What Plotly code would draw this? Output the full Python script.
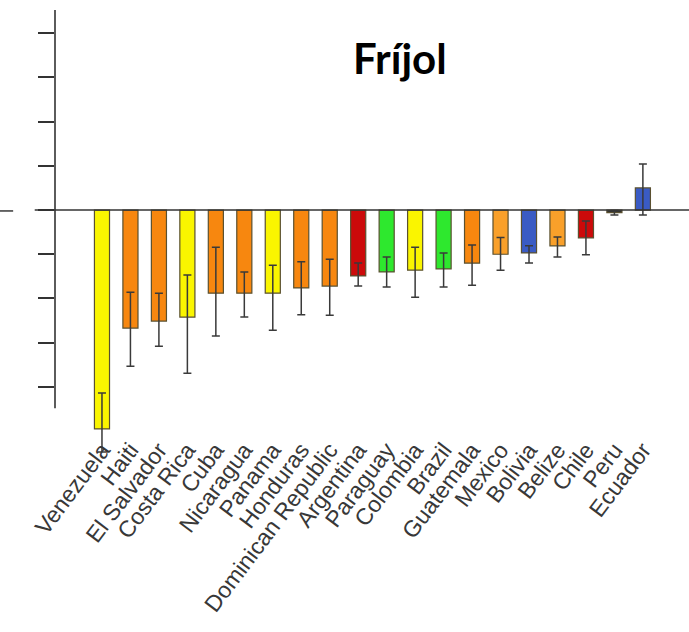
import plotly.graph_objects as go

# Country-level change for bean (fríjol), sorted from largest loss to gain
countries = ["Venezuela", "Haiti", "El Salvador", "Costa Rica", "Cuba", "Nicaragua",
             "Panama", "Honduras", "Dominican Republic", "Argentina", "Paraguay",
             "Colombia", "Brazil", "Guatemala", "Mexico", "Bolivia", "Belize",
             "Chile", "Peru", "Ecuador"]
values = [-49.5, -26.7, -25.1, -24.2, -18.8, -18.8, -18.8, -17.6, -17.2, -14.9,
          -14.0, -13.6, -13.3, -12.0, -10.0, -9.7, -8.1, -6.3, -0.6, 5.0]
err_up = [8.1, 8.1, 6.3, 9.5, 10.4, 4.8, 6.3, 5.9, 6.1, 2.9,
          3.4, 5.2, 3.6, 4.1, 3.8, 1.6, 2.0, 3.8, 0.5, 5.4]
err_down = [5.2, 8.6, 5.7, 12.7, 9.7, 5.4, 8.4, 6.1, 6.6, 2.3,
            3.4, 6.1, 4.1, 5.0, 3.6, 2.3, 2.5, 3.8, 0.5, 6.1]
groups = ["yellow", "orange", "orange", "yellow", "orange", "orange", "yellow",
          "orange", "orange", "red", "green", "yellow", "green", "orange",
          "light orange", "blue", "light orange", "red", "dark", "blue"]
palette = {"yellow": "#FAF500", "orange": "#F7870F", "light orange": "#F9A02A",
           "red": "#CC0A0A", "green": "#2EE82E", "blue": "#3A5BC4", "dark": "#333333"}
y_ticks = [-40, -30, -20, -10, 0, 10, 20, 30, 40]

fig = go.Figure(go.Bar(
    x=countries, y=values,
    marker=dict(color=[palette[g] for g in groups],
                line=dict(color="#5a5030", width=1.2)),
    width=0.53,
    error_y=dict(type="data", symmetric=False, array=err_up, arrayminus=err_down,
                 color="#3a3a3a", thickness=1.5, width=4),
))

# Axis line, extended zero line and a short stray dash on the left
fig.add_shape(type="line", xref="paper", yref="y", x0=0, x1=0, y0=-44.8, y1=45.3,
              line=dict(color="#333333", width=1.6))
fig.add_shape(type="line", xref="paper", yref="y", x0=-0.032, x1=1, y0=0, y1=0,
              line=dict(color="#333333", width=1.6))
fig.add_shape(type="line", xref="paper", yref="y", x0=-0.087, x1=-0.066, y0=-0.2, y1=-0.2,
              line=dict(color="#444444", width=1.6))

fig.add_annotation(text="<b>Fríjol</b>", xref="paper", yref="paper", x=0.544, y=0.892,
                   xanchor="center", yanchor="middle", showarrow=False,
                   font=dict(family="Lato", size=42, color="black"))

fig.update_layout(
    width=689, height=632,
    margin=dict(l=55, r=0, t=10, b=177),
    plot_bgcolor="white", paper_bgcolor="white",
    showlegend=False,
    xaxis=dict(range=[-1.65, 20.62], showline=False, ticks="", showgrid=False,
               zeroline=False, tickangle=-53, ticklabelstandoff=-24, dtick=1,
               automargin=False,
               tickfont=dict(family="Liberation Sans, Arial", size=23, color="#383838")),
    yaxis=dict(range=[-55.4, 45.25], showline=False, showgrid=False, zeroline=False,
               tickvals=y_ticks, ticks="outside", ticklen=16, tickwidth=1.6,
               tickcolor="#333333", showticklabels=False),
)

fig.write_html("out.html")
